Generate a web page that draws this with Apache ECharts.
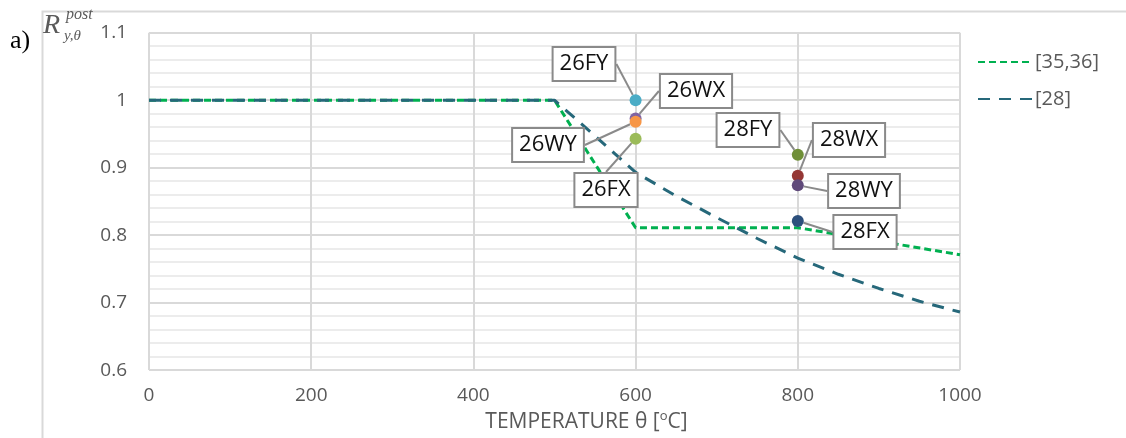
<!DOCTYPE html>
<html>
<head>
<meta charset="utf-8">
<script src="https://cdn.jsdelivr.net/npm/echarts@6/dist/echarts.min.js"></script>
<style>
html,body{margin:0;padding:0;background:#fff;}
#chart{width:1126px;height:438px;}
</style>
</head>
<body>
<div id="chart"></div>
<script>
// ---- data ----
const xTicks = [0, 200, 400, 600, 800, 1000];
const yTicks = [0.6, 0.7, 0.8, 0.9, 1, 1.1];

const ecName = '[35,36]';
const ecTemp = [0, 500, 600, 800, 1000];
const ecVals = [1.0, 1.0, 0.811, 0.811, 0.771];

const refName = '[28]';
const refTemp = [0, 500, 550, 600, 650, 700, 750, 800, 850, 900, 950, 1000];
const refVals = [1.0, 1.0, 0.947, 0.893, 0.858, 0.826, 0.795, 0.766, 0.742, 0.721, 0.702, 0.686];

const pointNames = ['26FY', '26WX', '26WY', '26FX', '28FY', '28WX', '28WY', '28FX'];
const pointTemps = [600, 600, 600, 600, 800, 800, 800, 800];
const pointVals  = [1.0, 0.973, 0.968, 0.943, 0.919, 0.888, 0.874, 0.821];

// ---- styles ----
const pointColors = ['#4bacc6', '#8064a2', '#f79646', '#9bbb59', '#6f8f37', '#953735', '#5f497a', '#2c4f7c'];
const labelPos = [[584, 64], [696, 91], [548, 145], [606, 190], [748, 130], [849, 140], [864, 191], [865, 232]];

const FONT = '"Open Sans", "Liberation Sans", sans-serif';
const GRAY = '#595959';

const chart = echarts.init(document.getElementById('chart'), null, {renderer: 'canvas'});

const pointData = pointNames.map((n, i) => ({
  name: n,
  value: [pointTemps[i], pointVals[i]],
  itemStyle: {color: pointColors[i], opacity: 1}
}));

chart.setOption({
  backgroundColor: '#ffffff',
  animation: false,
  grid: {left: 149, right: 166, top: 32.7, bottom: 64, containLabel: false},
  legend: {
    orient: 'vertical',
    left: 972,
    top: 47,
    itemWidth: 54,
    itemHeight: 14,
    itemGap: 17,
    data: [ecName, refName],
    itemStyle: {opacity: 0},
    textStyle: {fontFamily: FONT, fontSize: 20, color: GRAY, padding: [0, 0, 0, -2]}
  },
  xAxis: {
    type: 'value',
    min: xTicks[0],
    max: xTicks[xTicks.length - 1],
    interval: xTicks[1] - xTicks[0],
    axisLine: {show: false},
    axisTick: {show: false},
    axisLabel: {fontFamily: FONT, fontSize: 19, color: GRAY, margin: 16, formatter: v => String(v)},
    splitLine: {show: true, lineStyle: {color: '#d9d9d9', width: 2}},
    name: 'TEMPERATURE θ [{sup|o}C]',
    nameLocation: 'middle',
    nameGap: 38,
    nameTextStyle: {
      fontFamily: FONT, fontSize: 21, color: GRAY, padding: [0, 0, 0, 64],
      rich: {sup: {fontFamily: FONT, fontSize: 13, color: GRAY, padding: [0, 0, 12, 0]}}
    }
  },
  yAxis: {
    type: 'value',
    min: yTicks[0],
    max: yTicks[yTicks.length - 1],
    interval: 0.1,
    axisLine: {show: false},
    axisTick: {show: false},
    axisLabel: {fontFamily: FONT, fontSize: 19, color: GRAY, margin: 22,
      formatter: v => String(Math.round(v * 10) / 10)},
    splitLine: {show: true, lineStyle: {color: '#d9d9d9', width: 2}},
    minorTick: {show: false, splitNumber: 5},
    minorSplitLine: {show: true, lineStyle: {color: '#ececec', width: 2}}
  },
  series: [
    {
      name: ecName,
      type: 'line',
      data: ecTemp.map((t, i) => [t, ecVals[i]]),
      symbol: 'none',
      lineStyle: {color: '#00b050', width: 3, type: [7, 4]},
      itemStyle: {color: '#00b050'},
      z: 2
    },
    {
      name: refName,
      type: 'line',
      data: refTemp.map((t, i) => [t, refVals[i]]),
      symbol: 'none',
      smooth: false,
      lineStyle: {color: '#26687a', width: 3, type: [12, 9]},
      itemStyle: {color: '#26687a'},
      z: 3
    },
    {
      name: 'points',
      type: 'scatter',
      data: pointData,
      symbol: 'circle',
      symbolSize: 12,
      z: 5,
      label: {
        show: true,
        formatter: '{b}',
        fontFamily: FONT,
        fontSize: 22,
        color: '#111',
        backgroundColor: '#fff',
        borderColor: '#8a8a8a',
        borderWidth: 2,
        padding: [2, 6, 1, 6],
        lineHeight: 29
      },
      labelLine: {show: true, lineStyle: {color: '#8a8a8a', width: 2}},
      labelLayout: function (params) {
        const p = labelPos[params.dataIndex];
        return {x: p[0], y: p[1], align: 'center', verticalAlign: 'middle', moveOverlap: false, hideOverlap: false};
      }
    }
  ],
  graphic: [
    {type: 'rect', left: 40, top: 9, shape: {x: 0, y: 0, width: 1110, height: 460},
      style: {fill: 'none', stroke: '#d9d9d9', lineWidth: 2}, silent: true, z: -10},
    {type: 'text', left: 10, top: 28, style: {text: 'a)', font: '26px "Liberation Serif", serif', fill: '#000'}},
    {type: 'text', left: 43, top: 12, style: {text: 'R', font: 'italic 28px "Liberation Serif", serif', fill: '#5a5a5a'}},
    {type: 'text', left: 66, top: 7, style: {text: 'post', font: 'italic 16px "Liberation Serif", serif', fill: '#5a5a5a'}},
    {type: 'text', left: 64, top: 29, style: {text: 'y,θ', font: 'italic 15px "Liberation Serif", serif', fill: '#5a5a5a'}}
  ]
});
</script>
</body>
</html>
